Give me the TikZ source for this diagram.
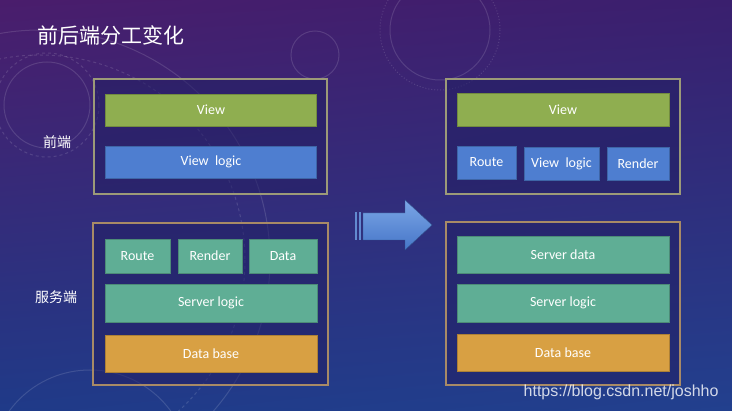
\documentclass[tikz,border=0pt]{standalone}
\usepackage{fontspec}
\setmainfont{Carlito}
\newfontfamily\cjk{Noto Sans CJK SC}
\newfontfamily\wmfont{Liberation Sans}
\usetikzlibrary{shapes.geometric,shadings}
\definecolor{bgtl}{HTML}{4A1D6C}
\definecolor{bgtr}{HTML}{3A1F6E}
\definecolor{bgbl}{HTML}{1F3A88}
\definecolor{bgbr}{HTML}{22408E}
\definecolor{viewgreen}{HTML}{8FAE50}
\definecolor{vlblue}{HTML}{4E7ED0}
\definecolor{srvteal}{HTML}{5FAE95}
\definecolor{dborange}{HTML}{D8A043}
\definecolor{frameA}{HTML}{9C9A78}
\definecolor{frameB}{HTML}{A88A66}
\definecolor{boxfill}{HTML}{221F63}
\definecolor{arrowA}{HTML}{7BA6E6}
\definecolor{arrowB}{HTML}{4676C8}
\begin{document}
\begin{tikzpicture}[x=1pt,y=-1pt,
  frame/.style={draw=frameA,line width=1.1pt,fill=boxfill,fill opacity=0.55,draw opacity=1},
  bar/.style={draw=#1!80!black,line width=0.6pt,fill=#1,text=white,font=\fontsize{14}{16}\selectfont,inner sep=0pt},
  side/.style={text=white,font=\cjk\fontsize{14}{16}\selectfont},
  deco/.style={draw=white,opacity=0.13,line width=1pt}
]
\useasboundingbox (0,0) rectangle (732,411);
\shade[upper left=bgtl,upper right=bgtr,lower left=bgbl,lower right=bgbr] (0,0) rectangle (732,411);
% decorative circles
\draw[deco] (47,105) circle (43);
\draw[deco,dashed] (47,105) circle (52);
\draw[deco] (440,30) circle (50);
\draw[deco,dotted] (440,30) circle (60);
\draw[deco] (315,55) circle (24);
\draw[deco] (40,260) circle (230);
\draw[deco,dashed] (40,260) circle (205);
\draw[deco] (90,470) circle (100);
% title
\node[anchor=west,text=white,font=\cjk\fontsize{21}{24}\selectfont] (title) at (34,35) {前后端分工变化};
% frames
\draw[frame] (94,79) rectangle (327,194);
\draw[frame] (446,79) rectangle (680,194);
\draw[frame,draw=frameB] (93,223) rectangle (328,385);
\draw[frame,draw=frameB] (446,222) rectangle (680,385);
% left top
\node[bar=viewgreen,minimum width=211pt,minimum height=32pt] (lview) at (211,110) {View};
\node[bar=vlblue,minimum width=211pt,minimum height=32pt] (lvlogic) at (211,162) {View\ \ logic};
% right top
\node[bar=viewgreen,minimum width=212pt,minimum height=33pt] (rview) at (563,110) {View};
\node[bar=vlblue,minimum width=59pt,minimum height=33pt] (rroute) at (486.5,162.5) {Route};
\node[bar=vlblue,minimum width=75pt,minimum height=33pt] (rvlogic) at (561.5,163.5) {View\ \ logic};
\node[bar=vlblue,minimum width=62pt,minimum height=33pt] (rrender) at (638,163.5) {Render};
% left bottom
\node[bar=srvteal,minimum width=65pt,minimum height=34pt] (lroute) at (137.5,256) {Route};
\node[bar=srvteal,minimum width=64pt,minimum height=34pt] (lrender) at (210,256) {Render};
\node[bar=srvteal,minimum width=68pt,minimum height=34pt] (ldata) at (283,256) {Data};
\node[bar=srvteal,minimum width=212pt,minimum height=38pt] (lslogic) at (211,303) {Server logic};
\node[bar=dborange,minimum width=212pt,minimum height=37pt] (ldb) at (211,353.5) {Data base};
% right bottom
\node[bar=srvteal,minimum width=212pt,minimum height=37pt] (rsdata) at (563,254.5) {Server data};
\node[bar=srvteal,minimum width=212pt,minimum height=38pt] (rslogic) at (563,303) {Server logic};
\node[bar=dborange,minimum width=212pt,minimum height=37pt] (rdb) at (563,352.5) {Data base};
% side labels
\node[side] (fe) at (57,142) {前端};
\node[side] (be) at (56,297) {服务端};
% arrow
\fill[arrowB!85!white] (355,212) rectangle (357,240);
\fill[arrowB!85!white] (359,212) rectangle (361,240);
\shade[top color=arrowA,bottom color=arrowB,draw=arrowB!70!black,line width=0.4pt]
  (363,213) -- (405,213) -- (405,200) -- (432,225) -- (405,250) -- (405,240) -- (363,240) -- cycle;
% watermark
\node[anchor=east,text=white,opacity=0.8,font=\wmfont\fontsize{16}{18}\selectfont] (wm) at (722,392) {https://blog.csdn.net/joshho};
\end{tikzpicture}
\end{document}
